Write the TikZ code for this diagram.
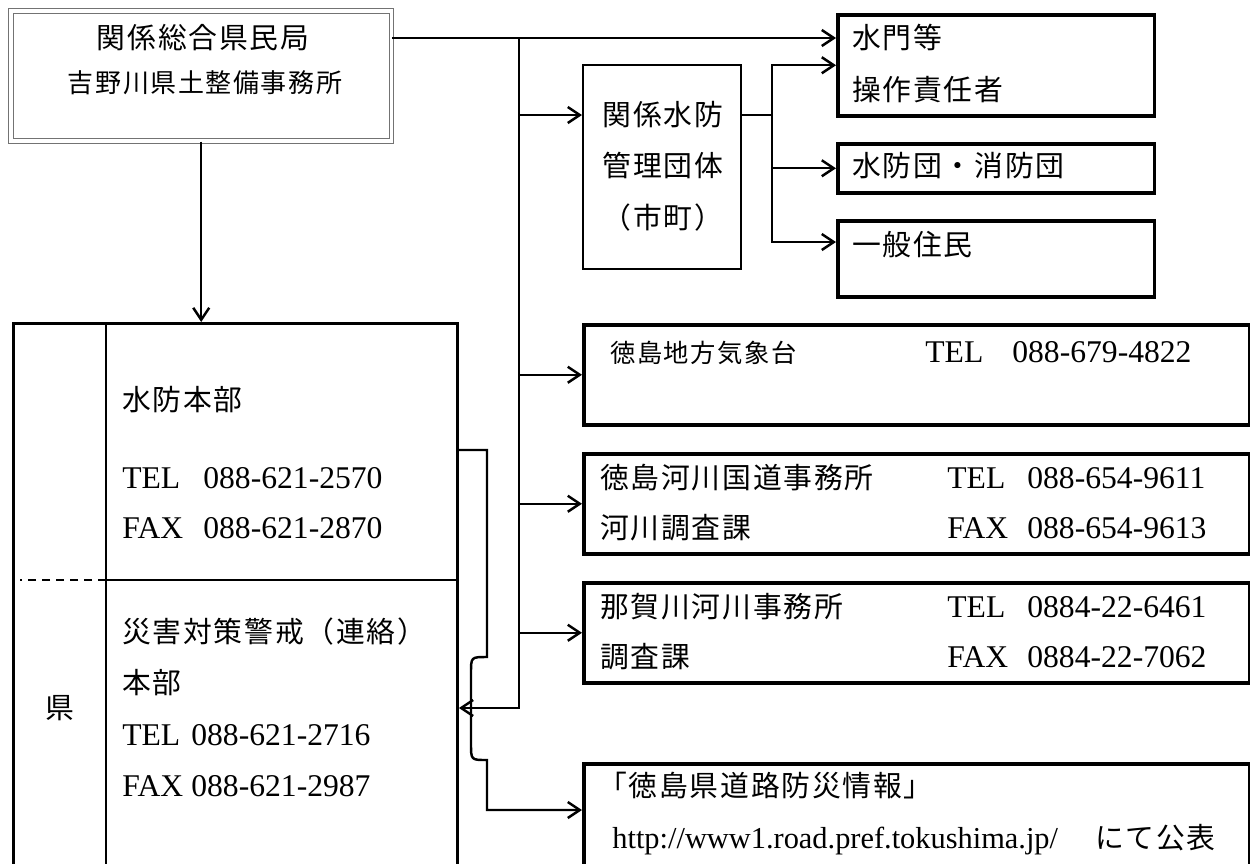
\documentclass[tikz,border=0pt]{standalone}
\usepackage{fontspec}
\setmainfont{Liberation Serif}
\newfontfamily\jp{Noto Sans CJK JP}[LetterSpace=6]
\usetikzlibrary{arrows.meta}

\tikzset{
  heavybox/.style={draw, line width=2pt, inner sep=0pt, anchor=north west},
  lattxt/.style={anchor=west, inner sep=0pt, text height=0.8em, text depth=0.15em, yshift=-0.1cm,
    font=\fontsize{18pt}{21pt}\selectfont},
  jtxt/.style={lattxt, font=\jp\fontsize{16.4pt}{19pt}\selectfont},
  link/.style={line width=1.4pt},
  arr/.style={link, -{Straight Barb[length=2.4mm,width=3.2mm]}}
}

\begin{document}
\begin{tikzpicture}[x=0.02cm, y=-0.02cm]
		\useasboundingbox (0,0) rectangle (1250,863);
		
		%%%%% boxes %%%%%
		\node[draw=black!55, line width=0.6pt, double, double distance=0.75mm, inner sep=0pt,
		anchor=north west, minimum width=7.61cm, minimum height=2.6cm] (kyoku) at (10.5,10.5) {};
		\node[jtxt, anchor=center] (kyoku-t1) at (203,38) {関係総合県民局};
		\node[jtxt, anchor=center, font=\jp\fontsize{14.8pt}{17pt}\selectfont] (kyoku-t2) at (205,82) {吉野川県土整備事務所};
		
		\node[heavybox, line width=1.4pt, minimum width=3.16cm, minimum height=4.08cm] (dantai) at (582,64) {};
		\node[jtxt, anchor=center] (dantai-t1) at (663,115) {関係水防};
		\node[jtxt, anchor=center] (dantai-t2) at (663,166) {管理団体};
		\node[jtxt, anchor=center] (dantai-t3) at (663,218) {（市町）};
		
		\node[heavybox, minimum width=6.34cm, minimum height=2.02cm] (suimon) at (836,13) {};
		\node[jtxt] (suimon-t1) at (852,38) {水門等};
		\node[jtxt] (suimon-t2) at (852,90) {操作責任者};
		\node[heavybox, minimum width=6.34cm, minimum height=0.98cm] (shobo) at (836,142) {};
		\node[jtxt] (shobo-t) at (852,166) {水防団・消防団};
		\node[heavybox, minimum width=6.34cm, minimum height=1.52cm] (jumin) at (836,219) {};
		\node[jtxt] (jumin-t) at (852,245) {一般住民};
		
		\node[heavybox, minimum width=13.32cm, minimum height=2cm] (kisho) at (582,323) {};
		\node[jtxt, font=\jp\fontsize{14.4pt}{17pt}\selectfont] (kisho-t) at (610,352) {徳島地方気象台};
		\node[lattxt] (kisho-tel) at (925,352) {TEL};
		\node[lattxt] (kisho-no) at (1012,352) {088-679-4822};
		
		\node[heavybox, minimum width=13.32cm, minimum height=2cm] (kokudo) at (582,452) {};
		\node[jtxt] (kokudo-t1) at (600,478) {徳島河川国道事務所};
		\node[jtxt] (kokudo-t2) at (600,528) {河川調査課};
		\node[lattxt] (kokudo-tel) at (947,478) {TEL};
		\node[lattxt] (kokudo-no1) at (1027,478) {088-654-9611};
		\node[lattxt] (kokudo-fax) at (947,528) {FAX};
		\node[lattxt] (kokudo-no2) at (1027,528) {088-654-9613};
		
		\node[heavybox, minimum width=13.32cm, minimum height=2cm] (naka) at (582,581) {};
		\node[jtxt] (naka-t1) at (600,607) {那賀川河川事務所};
		\node[jtxt] (naka-t2) at (600,657) {調査課};
		\node[lattxt] (naka-tel) at (947,607) {TEL};
		\node[lattxt] (naka-no1) at (1027,607) {0884-22-6461};
		\node[lattxt] (naka-fax) at (947,657) {FAX};
		\node[lattxt] (naka-no2) at (1027,657) {0884-22-7062};
		
		\node[heavybox, minimum width=13.32cm, minimum height=2.5cm] (doro) at (582,762) {};
		\node[jtxt] (doro-t1) at (598,786) {「徳島県道路防災情報」};
		\node[lattxt, font=\fontsize{17.3pt}{20pt}\selectfont] (doro-url) at (612,838) {http://www1.road.pref.tokushima.jp/};
		\node[jtxt] (doro-t2) at (1095,838) {にて公表};
		
		\node[heavybox, line width=1.7pt, minimum width=8.88cm, minimum height=11.2cm] (ken) at (12,322) {};
		\coordinate (kcol) at (106,322);
		\coordinate (ksep) at (106,580);
		\draw[line width=1.1pt] (kcol) -- (kcol |- ken.south);
		\draw[line width=1.1pt] (ksep) -- (ksep -| ken.east);
		\draw[line width=1.5pt, dash pattern=on 0.16cm off 0.12cm] (ksep) -- (20,580);
		\node[jtxt, anchor=center] (ken-t) at (60,708) {県};
		\node[jtxt] (hq-t) at (122,400) {水防本部};
		\node[lattxt] (hq-tel) at (122,478) {TEL};
		\node[lattxt] (hq-no1) at (203,478) {088-621-2570};
		\node[lattxt] (hq-fax) at (122,528) {FAX};
		\node[lattxt] (hq-no2) at (203,528) {088-621-2870};
		\node[jtxt] (sai-t1) at (122,632) {災害対策警戒（連絡）};
		\node[jtxt] (sai-t2) at (122,683) {本部};
		\node[lattxt] (sai-tel) at (122,735) {TEL};
		\node[lattxt] (sai-no1) at (191,735) {088-621-2716};
		\node[lattxt] (sai-fax) at (122,786) {FAX};
		\node[lattxt] (sai-no2) at (191,786) {088-621-2987};
		
		%%%%% connectors %%%%%
		\coordinate (trunk-top) at (519,38);
		\coordinate (trunk-bot) at (519,708);
		\coordinate (t-dantai) at (519,115);
		\coordinate (fork) at (772,115);
		\coordinate (jumin-in) at (836,242);
		\coordinate (hop) at (487,450);
		\coordinate (doro-in) at (582,810);
		
		\draw[arr] (kyoku.south) -- (kyoku.south |- ken.north);
		\draw[arr] (kyoku.east |- trunk-top) -- (trunk-top -| suimon.west);
		\draw[arr] (trunk-top) -- (trunk-bot) -- (trunk-bot -| ken.east);
		\draw[arr] (t-dantai) -- (t-dantai -| dantai.west);
		\draw[arr] (trunk-top |- kisho.west) -- (kisho.west);
		\draw[arr] (trunk-top |- kokudo.west) -- (kokudo.west);
		\draw[arr] (trunk-top |- naka.west) -- (naka.west);
		
		\draw[link] (fork -| dantai.east) -- (fork);
		\draw[arr] (fork) |- (suimon.west);
		\draw[arr] (fork) |- (shobo.west);
		\draw[arr] (fork) |- (jumin-in);
		
		\draw[arr] (hop -| ken.east) -- (hop) -- (487,657) .. controls (471,657) .. (471,673)
		-- (471,744) .. controls (471,760) .. (487,760) -- (doro-in -| hop) -- (doro-in);
		
	\end{tikzpicture}
\end{document}
